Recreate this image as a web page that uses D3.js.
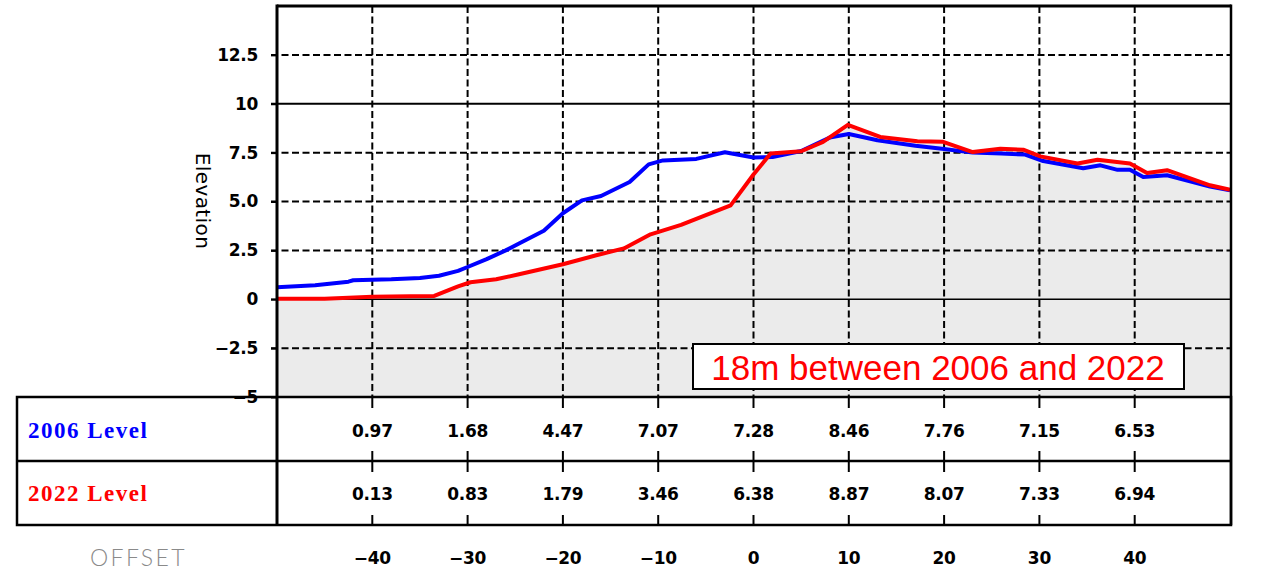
<!DOCTYPE html>
<html>
<head>
<meta charset="utf-8">
<script src="https://cdn.jsdelivr.net/npm/d3@7"></script>
<style>
  body { margin: 0; background: #fff; }
  svg { display: block; }
</style>
</head>
<body>
<svg id="chart" width="1266" height="570"></svg>
<script>
// profile data (offset along the section, elevation)
var offsets2006 = [-50, -46, -42.5, -42, -38, -35, -33, -31, -30, -28, -26, -24.5, -22, -20, -18, -16, -13, -11, -9.5, -6, -3, 0, 2, 5, 8, 10, 13, 17, 20, 23, 26, 28.5, 30.4, 34.6, 36.4, 38.2, 39.5, 40.9, 43.4, 47.9, 50];
var elev2006 = [0.62, 0.72, 0.9, 0.97, 1.02, 1.09, 1.2, 1.45, 1.65, 2.05, 2.5, 2.88, 3.5, 4.4, 5.06, 5.28, 6.0, 6.9, 7.1, 7.18, 7.52, 7.25, 7.28, 7.58, 8.27, 8.45, 8.13, 7.85, 7.68, 7.5, 7.46, 7.4, 7.07, 6.7, 6.85, 6.62, 6.62, 6.25, 6.34, 5.76, 5.57];

var offsets2022 = [-50, -45, -40, -36, -33.5, -31, -29.7, -27, -24.6, -20, -16.5, -13.6, -10.8, -7.6, -2.4, 0, 1.8, 5, 7.3, 9.9, 13.3, 17.2, 19.9, 23, 25.9, 28.3, 30.1, 34, 36.1, 39.5, 41.3, 43.4, 47.9, 50];
var elev2022 = [0.02, 0.03, 0.13, 0.15, 0.17, 0.66, 0.87, 1.02, 1.28, 1.79, 2.25, 2.6, 3.32, 3.8, 4.8, 6.38, 7.45, 7.57, 8.05, 8.92, 8.3, 8.08, 8.05, 7.53, 7.7, 7.65, 7.31, 6.94, 7.14, 6.94, 6.46, 6.6, 5.83, 5.6];

// table rows
var tableOffsets = [-40, -30, -20, -10, 0, 10, 20, 30, 40];
var level2006 = ["0.97", "1.68", "4.47", "7.07", "7.28", "8.46", "7.76", "7.15", "6.53"];
var level2022 = ["0.13", "0.83", "1.79", "3.46", "6.38", "8.87", "8.07", "7.33", "6.94"];
var offsetLabels = ["\u221240", "\u221230", "\u221220", "\u221210", "0", "10", "20", "30", "40"];

var yTicks = [-5, -2.5, 0, 2.5, 5, 7.5, 10, 12.5];
var yLabels = ["\u22125", "\u22122.5", "0", "2.5", "5.0", "7.5", "10", "12.5"];

var blue = "#0000ff", red = "#ff0000";
var numFont = "'DejaVu Sans', sans-serif";

var svg = d3.select("#chart");

var x = d3.scaleLinear().domain([-50, 50]).range([277, 1230]);
var y = d3.scaleLinear().domain([-5, 15]).range([397, 6]);

var tableTop = 397, rowMid = 461, tableBottom = 525, tableLeft = 17, tableRight = 1231;

var pts2006 = offsets2006.map(function (d, i) { return [d, elev2006[i]]; });
var pts2022 = offsets2022.map(function (d, i) { return [d, elev2022[i]]; });

// gray ground under the 2022 profile
var area = d3.area()
    .x(function (d) { return x(d[0]); })
    .y0(y(-5))
    .y1(function (d) { return y(d[1]); });

svg.append("path")
    .datum(pts2022)
    .attr("d", area)
    .attr("fill", "#ebebeb");

// grid
var grid = svg.append("g");
grid.selectAll("line.h")
    .data(yTicks.filter(function (d) { return d > -5; }))
    .enter().append("line")
    .attr("x1", 271).attr("x2", x(50))
    .attr("y1", function (d) { return y(d); })
    .attr("y2", function (d) { return y(d); })
    .attr("stroke", "#000")
    .attr("stroke-width", function (d) { return d == 0 ? 1.5 : 2; })
    .attr("stroke-dasharray", function (d) { return (d == 10 || d == 0) ? null : "7,3.5"; });

grid.selectAll("line.v")
    .data(tableOffsets)
    .enter().append("line")
    .attr("x1", function (d) { return x(d); })
    .attr("x2", function (d) { return x(d); })
    .attr("y1", y(15)).attr("y2", tableTop)
    .attr("stroke", "#000")
    .attr("stroke-width", 2)
    .attr("stroke-dasharray", "7,3.5");

// profile lines
var line = d3.line()
    .x(function (d) { return x(d[0]); })
    .y(function (d) { return y(d[1]); });

svg.append("path").datum(pts2006).attr("d", line)
    .attr("fill", "none").attr("stroke", blue).attr("stroke-width", 4)
    .attr("stroke-linejoin", "round");
svg.append("path").datum(pts2022).attr("d", line)
    .attr("fill", "none").attr("stroke", red).attr("stroke-width", 4)
    .attr("stroke-linejoin", "round");

// frame of the plot and table
var frame = svg.append("g").attr("stroke", "#000").attr("fill", "none");
frame.append("line").attr("x1", x(-50)).attr("x2", tableRight).attr("y1", y(15)).attr("y2", y(15)).attr("stroke-width", 3);
frame.append("line").attr("x1", x(-50)).attr("x2", x(-50)).attr("y1", y(15) - 1.5).attr("y2", tableBottom).attr("stroke-width", 3);
frame.append("line").attr("x1", tableRight).attr("x2", tableRight).attr("y1", y(15) - 1.5).attr("y2", tableBottom).attr("stroke-width", 2.5);
frame.append("rect")
    .attr("x", tableLeft).attr("y", tableTop)
    .attr("width", tableRight - tableLeft).attr("height", tableBottom - tableTop)
    .attr("stroke-width", 2.5);
frame.append("line").attr("x1", tableLeft).attr("x2", tableRight).attr("y1", rowMid).attr("y2", rowMid).attr("stroke-width", 2.5);

// ticks inside the table
var tk = svg.append("g").attr("stroke", "#000").attr("stroke-width", 2);
tableOffsets.forEach(function (d) {
    var xx = x(d);
    tk.append("line").attr("x1", xx).attr("x2", xx).attr("y1", tableTop).attr("y2", tableTop + 11);
    tk.append("line").attr("x1", xx).attr("x2", xx).attr("y1", rowMid - 10).attr("y2", rowMid + 11);
    tk.append("line").attr("x1", xx).attr("x2", xx).attr("y1", tableBottom - 10).attr("y2", tableBottom);
});

// y axis
var yAxis = d3.axisLeft(y)
    .tickValues(yTicks)
    .tickSize(6)
    .tickPadding(13)
    .tickFormat(function (d, i) { return yLabels[i]; });

var ya = svg.append("g")
    .attr("transform", "translate(" + x(-50) + ",0)")
    .call(yAxis);
ya.select(".domain").remove();
ya.selectAll(".tick line").attr("stroke-width", 2);
ya.selectAll(".tick text")
    .attr("font-family", numFont)
    .attr("font-weight", "bold")
    .attr("font-size", 17)
    .attr("letter-spacing", -0.3)
    .attr("fill", "#000");

svg.append("text")
    .attr("transform", "translate(196,201) rotate(90)")
    .attr("text-anchor", "middle")
    .attr("font-family", numFont)
    .attr("font-size", 20)
    .attr("letter-spacing", 0.4)
    .text("Elevation");

// table text
function row(vals, yy) {
    svg.append("g").selectAll("text")
        .data(vals)
        .enter().append("text")
        .attr("x", function (d, i) { return x(tableOffsets[i]); })
        .attr("y", yy)
        .attr("text-anchor", "middle")
        .attr("font-family", numFont)
        .attr("font-weight", "bold")
        .attr("font-size", 17)
        .attr("letter-spacing", -0.3)
        .text(function (d) { return d; });
}
row(level2006, 437);
row(level2022, 500);
row(offsetLabels, 564);

svg.append("text")
    .attr("x", 28).attr("y", 438)
    .attr("font-family", "'Liberation Serif', 'Times New Roman', serif")
    .attr("font-weight", "bold")
    .attr("font-size", 23)
    .attr("letter-spacing", 1.5)
    .attr("fill", blue)
    .text("2006 Level");
svg.append("text")
    .attr("x", 28).attr("y", 501)
    .attr("font-family", "'Liberation Serif', 'Times New Roman', serif")
    .attr("font-weight", "bold")
    .attr("font-size", 23)
    .attr("letter-spacing", 1.5)
    .attr("fill", red)
    .text("2022 Level");

svg.append("text")
    .attr("x", 90).attr("y", 566)
    .attr("font-family", "Lato, sans-serif")
    .attr("font-weight", 300)
    .attr("font-size", 23)
    .attr("letter-spacing", 2.4)
    .attr("fill", "#8a8a8a")
    .text("OFFSET");

// annotation
svg.append("rect")
    .attr("x", 693).attr("y", 344)
    .attr("width", 491).attr("height", 45)
    .attr("fill", "#fff")
    .attr("stroke", "#000")
    .attr("stroke-width", 2);
svg.append("text")
    .attr("x", 938).attr("y", 380)
    .attr("text-anchor", "middle")
    .attr("font-family", "'Liberation Sans', Arial, sans-serif")
    .attr("font-size", 35)
    .attr("fill", red)
    .text("18m between 2006 and 2022");
</script>
</body>
</html>
